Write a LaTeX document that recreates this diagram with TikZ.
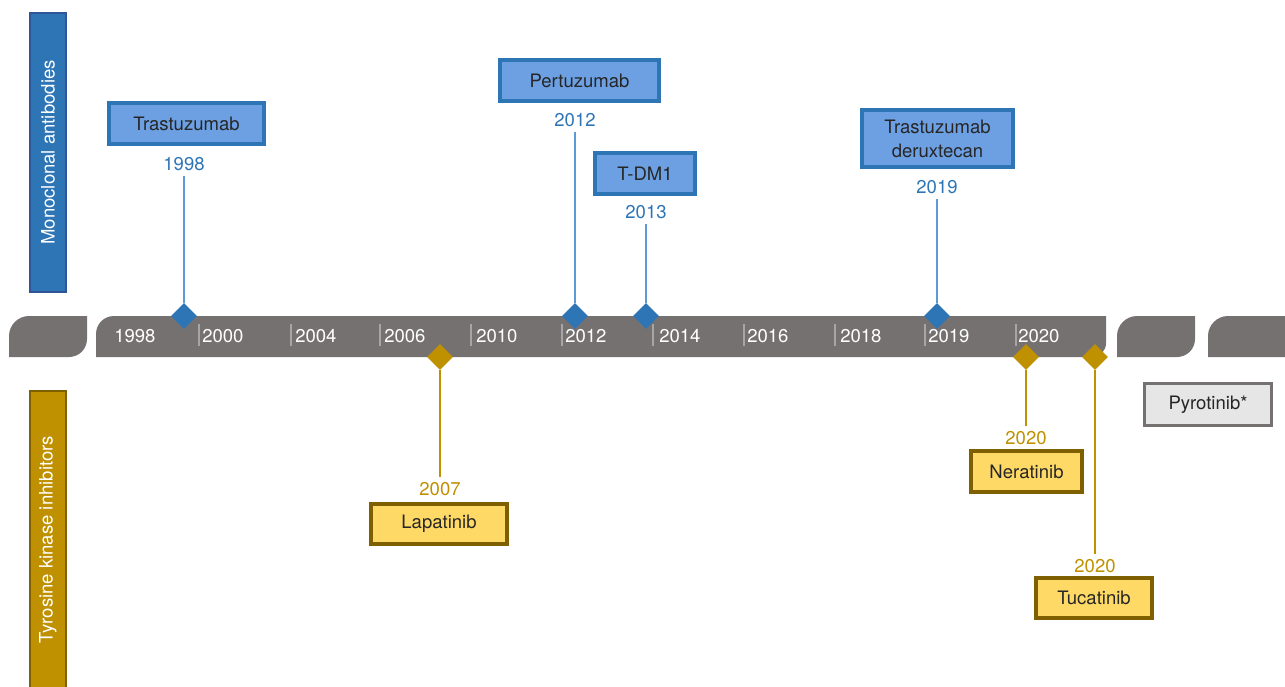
\documentclass[tikz,border=0pt]{standalone}
\usepackage{fontspec}
\setmainfont{TeX Gyre Heros}
\usetikzlibrary{shapes.geometric}
\definecolor{timebar}{HTML}{767171}
\definecolor{tickgrey}{HTML}{A6A6A6}
\definecolor{mabdark}{HTML}{2E75B6}
\definecolor{mabedge}{HTML}{2F5597}
\definecolor{mabbox}{HTML}{6CA0E2}
\definecolor{mabline}{HTML}{5B9BD5}
\definecolor{tkidark}{HTML}{BF9000}
\definecolor{tkiedge}{HTML}{7F6000}
\definecolor{tkibox}{HTML}{FFD966}
\definecolor{pyrobox}{HTML}{E7E6E6}
\definecolor{drugtext}{HTML}{262626}
\begin{document}
\begin{tikzpicture}[x=0.75pt,y=-0.75pt,font=\fontsize{13.9}{18}\selectfont]

    \tikzset{
      drug/.style={
        draw,
        line width=3pt,
        text=drugtext,
        inner sep=0pt,
        align=center,
      },
      mabdrug/.style={drug, fill=mabbox, draw=mabdark},
      tkidrug/.style={drug, fill=tkibox, draw=tkiedge},
      mabyear/.style={text=mabdark, inner sep=4pt},
      tkiyear/.style={text=tkidark, inner sep=4pt},
      mabmark/.style={diamond, fill=mabdark, inner sep=0pt, minimum width=19.5pt, minimum height=19.5pt},
      tkimark/.style={diamond, fill=tkidark, inner sep=0pt, minimum width=19.5pt, minimum height=19.5pt},
      mabstem/.style={draw=mabline, line width=1.1pt},
      tkistem/.style={draw=tkidark, line width=1.1pt},
      yearbar/.style={text=white, anchor=west, inner sep=0pt},
      yearsep/.style={draw=tickgrey, line width=1.1pt},
      class/.style={draw, line width=1.5pt, text=white, rotate=90, minimum height=27pt, inner sep=0pt},
    }
    \useasboundingbox (0,0) rectangle (1285,686);
    \clip (0,0) rectangle (1285,686);

	\node[class, fill=mabdark, draw=mabedge, minimum width=209pt] (mab) at (48,152.5) {Monoclonal antibodies};
	\node[class, fill=tkidark, draw=tkiedge, minimum width=223pt] (tki) at (48,539.5) {Tyrosine kinase inhibitors};

	\fill[timebar] (9,357) -- (9,336) .. controls (9,325) and (18,316) .. (29,316) -- (87,316) -- (87,339) .. controls (87,349) and (79,357) .. (69,357) -- cycle;
	\fill[timebar] (96,357) -- (96,334) .. controls (96,324) and (104,316) .. (114,316) -- (1106,316) -- (1106,343) .. controls (1106,351) and (1100,357) .. (1092,357) -- cycle;
	\fill[timebar] (1117,357) -- (1117,336) .. controls (1117,325) and (1126,316) .. (1137,316) -- (1195,316) -- (1195,339) .. controls (1195,349) and (1187,357) .. (1177,357) -- cycle;
	\fill[timebar] (1208,357) -- (1208,336) .. controls (1208,325) and (1217,316) .. (1228,316) -- (1292,316) -- (1292,357) -- cycle;

	\draw[yearsep] (199,324) -- (199,346);
	\draw[yearsep] (291,324) -- (291,346);
	\draw[yearsep] (380,324) -- (380,346);
	\draw[yearsep] (471,324) -- (471,346);
	\draw[yearsep] (562,324) -- (562,346);
	\draw[yearsep] (653,324) -- (653,346);
	\draw[yearsep] (744,324) -- (744,346);
	\draw[yearsep] (835,324) -- (835,346);
	\draw[yearsep] (925,324) -- (925,346);
	\draw[yearsep] (1016,324) -- (1016,346);
	\node[yearbar] (y1998) at (114,336) {1998};
	\node[yearbar] (y2000) at (202,336) {2000};
	\node[yearbar] (y2004) at (295,336) {2004};
	\node[yearbar] (y2006) at (384,336) {2006};
	\node[yearbar] (y2010) at (476,336) {2010};
	\node[yearbar] (y2012) at (565,336) {2012};
	\node[yearbar] (y2014) at (659,336) {2014};
	\node[yearbar] (y2016) at (747,336) {2016};
	\node[yearbar] (y2018) at (840,336) {2018};
	\node[yearbar] (y2019) at (928,336) {2019};
	\node[yearbar] (y2020) at (1018,336) {2020};

	\node[mabdrug, minimum width=116.25pt, minimum height=30.75pt] (trastuzumab) at (186.5,123.5) {Trastuzumab};
	\node[mabyear] (yrTrastuzumab) at (184,164) {1998};
	\node[mabmark] (mkTrastuzumab) at (184,316) {};
	\draw[mabstem] (mkTrastuzumab) -- (yrTrastuzumab);

	\node[mabdrug, minimum width=119.25pt, minimum height=30.75pt] (pertuzumab) at (579.5,80.5) {Pertuzumab};
	\node[mabyear] (yrPertuzumab) at (575,120) {2012};
	\node[mabmark] (mkPertuzumab) at (575,316) {};
	\draw[mabstem] (mkPertuzumab) -- (yrPertuzumab);

	\node[mabdrug, minimum width=75pt, minimum height=30.75pt] (tdm) at (645,173.5) {T-DM1};
	\node[mabyear] (yrTdm) at (646,212) {2013};
	\node[mabmark] (mkTdm) at (646,316) {};
	\draw[mabstem] (mkTdm) -- (yrTdm);

	\node[mabdrug, minimum width=113.25pt, minimum height=42.75pt] (deruxtecan) at (937.5,138.5) {Trastuzumab\\deruxtecan};
	\node[mabyear] (yrDeruxtecan) at (937,187) {2019};
	\node[mabmark] (mkDeruxtecan) at (937,316) {};
	\draw[mabstem] (mkDeruxtecan) -- (yrDeruxtecan);

	\node[tkidrug, minimum width=102pt, minimum height=30pt] (lapatinib) at (439,524) {Lapatinib};
	\node[tkiyear] (yrLapatinib) at (440,489) {2007};
	\node[tkimark] (mkLapatinib) at (440,357) {};
	\draw[tkistem] (mkLapatinib) -- (yrLapatinib);

	\node[tkidrug, minimum width=83.25pt, minimum height=30.75pt] (neratinib) at (1026.5,471.5) {Neratinib};
	\node[tkiyear] (yrNeratinib) at (1026,438) {2020};
	\node[tkimark] (mkNeratinib) at (1026,357) {};
	\draw[tkistem] (mkNeratinib) -- (yrNeratinib);

	\node[tkidrug, minimum width=87pt, minimum height=30pt] (tucatinib) at (1094,598) {Tucatinib};
	\node[tkiyear] (yrTucatinib) at (1095,566) {2020};
	\node[tkimark] (mkTucatinib) at (1095,357) {};
	\draw[tkistem] (mkTucatinib) -- (yrTucatinib);

	\node[drug, fill=pyrobox, draw=timebar, line width=2.25pt, minimum width=95.25pt, minimum height=31.5pt] (pyrotinib) at (1208,404.5) {Pyrotinib*};

\end{tikzpicture}
\end{document}
